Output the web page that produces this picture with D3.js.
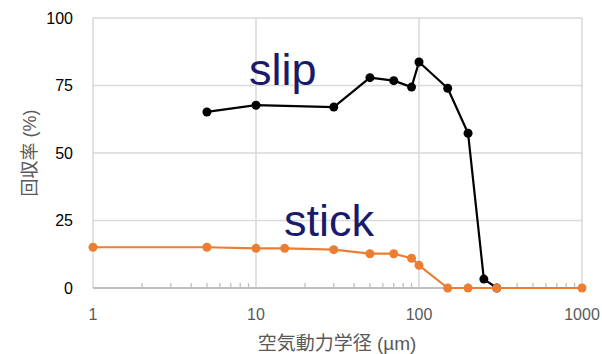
<!DOCTYPE html>
<html>
<head>
<meta charset="utf-8">
<script src="https://cdn.jsdelivr.net/npm/d3@7"></script>
<style>
  body { margin: 0; background: #fff; }
  svg { display: block; font-family: "Liberation Sans", Arial, "Noto Sans CJK JP", sans-serif; }
</style>
</head>
<body>
<div id="chart"></div>
<script>
// data
const slipX = [5, 10, 30, 50, 70, 90, 100, 150, 200, 250, 300];
const slipY = [65.2, 67.7, 67.0, 77.9, 76.8, 74.4, 83.7, 74.0, 57.3, 3.3, 0];
const stickX = [1, 5, 10, 15, 30, 50, 70, 90, 100, 150, 200, 300, 1000];
const stickY = [15.1, 15.1, 14.7, 14.7, 14.2, 12.7, 12.7, 11.0, 8.4, 0, 0, 0, 0];
const yTicks = [0, 25, 50, 75, 100];
const xTicks = [1, 10, 100, 1000];

const width = 602, height = 354;
const margin = { top: 18, right: 20, bottom: 66, left: 93 };

const svg = d3.select("#chart").append("svg")
  .attr("width", width)
  .attr("height", height);

const x = d3.scaleLog().domain([1, 1000]).range([margin.left, width - margin.right]);
const y = d3.scaleLinear().domain([0, 100]).range([height - margin.bottom, margin.top]);

// grid
svg.append("g")
  .selectAll("line.h")
  .data(yTicks.slice(1))
  .join("line")
  .attr("x1", x(1)).attr("x2", x(1000))
  .attr("y1", d => y(d)).attr("y2", d => y(d))
  .attr("stroke", "#d9d9d9").attr("stroke-width", 1.5);

svg.append("g")
  .selectAll("line.v")
  .data(xTicks)
  .join("line")
  .attr("x1", d => x(d)).attr("x2", d => x(d))
  .attr("y1", y(0)).attr("y2", y(100))
  .attr("stroke", "#d9d9d9").attr("stroke-width", 1.5);

// minor ticks on the log axis
const minor = [];
[1, 10, 100].forEach(dec => { for (let k = 2; k <= 9; k++) minor.push(dec * k); });
svg.append("g")
  .selectAll("line")
  .data(minor)
  .join("line")
  .attr("x1", d => x(d)).attr("x2", d => x(d))
  .attr("y1", y(0)).attr("y2", y(0) - 5)
  .attr("stroke", "#bfbfbf").attr("stroke-width", 1.3);

// bottom axis line
svg.append("line")
  .attr("x1", x(1)).attr("x2", x(1000))
  .attr("y1", y(0)).attr("y2", y(0))
  .attr("stroke", "#bfbfbf").attr("stroke-width", 2);

// tick labels
svg.append("g")
  .selectAll("text")
  .data(yTicks)
  .join("text")
  .attr("x", margin.left - 20)
  .attr("y", d => y(d))
  .attr("dy", "0.36em")
  .attr("text-anchor", "end")
  .attr("font-size", 16)
  .attr("fill", "#000")
  .text(d => d);

svg.append("g")
  .selectAll("text")
  .data(xTicks)
  .join("text")
  .attr("x", d => x(d))
  .attr("y", 320)
  .attr("text-anchor", "middle")
  .attr("font-size", 16)
  .attr("fill", "#595959")
  .text(d => d);

// axis titles
svg.append("text")
  .attr("transform", "translate(36,153) rotate(-90)")
  .attr("text-anchor", "middle")
  .attr("font-size", 18)
  .attr("fill", "#595959")
  .text("回収率 (%)");

svg.append("text")
  .attr("x", 337)
  .attr("y", 350)
  .attr("text-anchor", "middle")
  .attr("font-size", 19)
  .attr("fill", "#595959")
  .text("空気動力学径 (µm)");

// series
function drawSeries(xs, ys, color) {
  const pts = xs.map((d, i) => [d, ys[i]]);
  const line = d3.line().x(d => x(d[0])).y(d => y(d[1]));
  svg.append("path")
    .datum(pts)
    .attr("d", line)
    .attr("fill", "none")
    .attr("stroke", color)
    .attr("stroke-width", 2.2)
    .attr("stroke-linejoin", "round");
  svg.append("g")
    .selectAll("circle")
    .data(pts)
    .join("circle")
    .attr("cx", d => x(d[0]))
    .attr("cy", d => y(d[1]))
    .attr("r", 4.5)
    .attr("fill", color);
}
drawSeries(slipX, slipY, "#000");
drawSeries(stickX, stickY, "#ed7d31");

// series labels
svg.append("text")
  .attr("x", 249).attr("y", 85)
  .attr("font-size", 45)
  .attr("fill", "#1a1a6b")
  .text("slip");

svg.append("text")
  .attr("x", 284).attr("y", 236)
  .attr("font-size", 45)
  .attr("fill", "#1a1a6b")
  .text("stick");
</script>
</body>
</html>
